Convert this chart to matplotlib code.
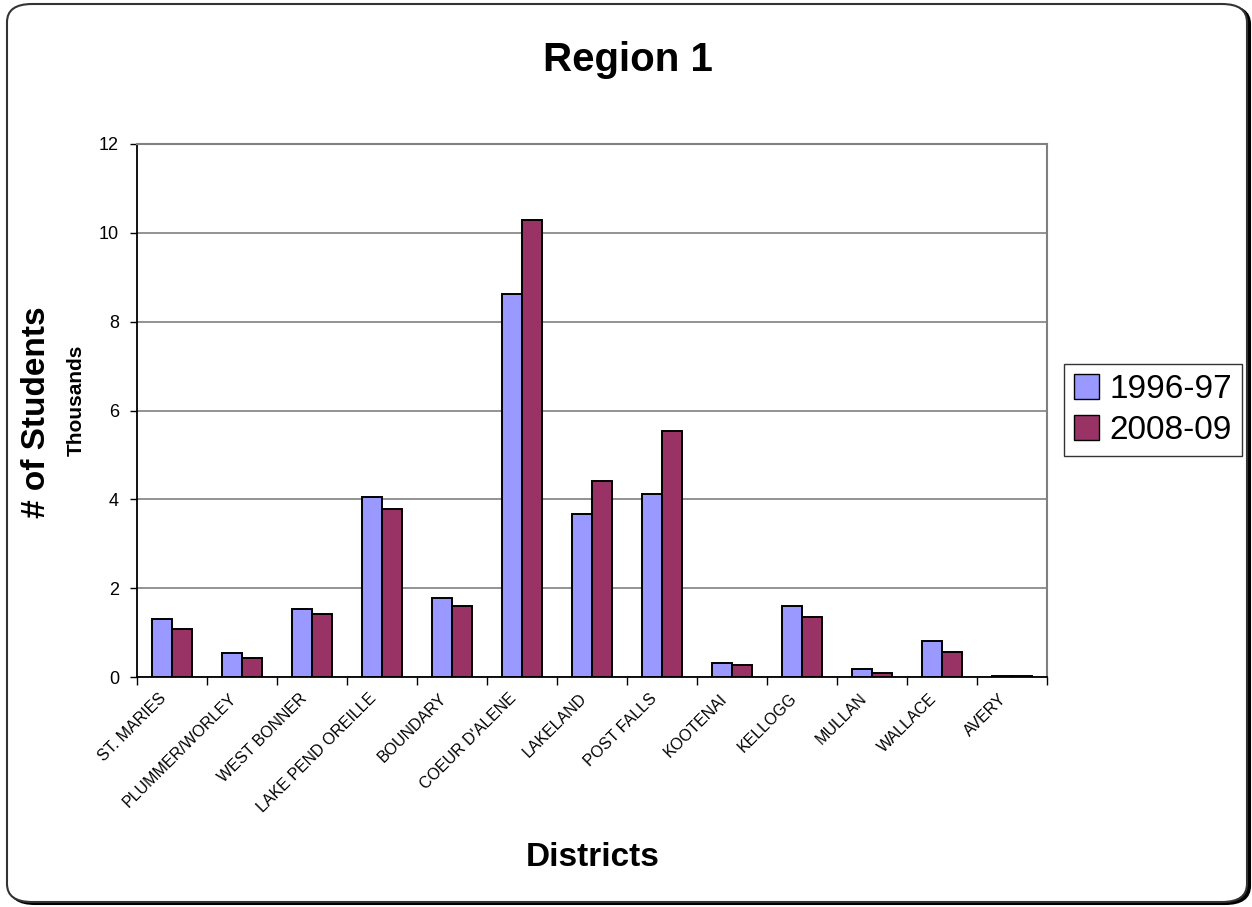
import numpy as np
import matplotlib
matplotlib.use("Agg")
import matplotlib.pyplot as plt
from matplotlib.patches import FancyBboxPatch, Patch
from matplotlib.transforms import ScaledTranslation

plt.rcParams['font.family'] = ['Liberation Sans', 'DejaVu Sans']

districts = ['ST. MARIES', 'PLUMMER/WORLEY', 'WEST BONNER', 'LAKE PEND OREILLE',
             'BOUNDARY', "COEUR D'ALENE", 'LAKELAND', 'POST FALLS', 'KOOTENAI',
             'KELLOGG', 'MULLAN', 'WALLACE', 'AVERY']
# enrollment in thousands
y1996 = [1.31, 0.55, 1.53, 4.05, 1.78, 8.63, 3.68, 4.11, 0.32, 1.60, 0.18, 0.80, 0.03]
y2008 = [1.08, 0.43, 1.42, 3.78, 1.60, 10.28, 4.41, 5.54, 0.28, 1.34, 0.10, 0.57, 0.02]

blue = '#9999FF'
plum = '#993366'

fig = plt.figure(figsize=(12.52, 9.07), dpi=100)

# rounded frame with a dark drop shadow, kept behind the axes
shadow = FancyBboxPatch((10 / 1252, 3 / 907), 1240 / 1252, 898 / 907,
                        boxstyle='round,pad=0,rounding_size=0.02',
                        transform=fig.transFigure, facecolor='black',
                        edgecolor='black', linewidth=1.5, zorder=-2)
frame = FancyBboxPatch((7 / 1252, 5 / 907), 1240 / 1252, 898 / 907,
                       boxstyle='round,pad=0,rounding_size=0.02',
                       transform=fig.transFigure, facecolor='white',
                       edgecolor='#333333', linewidth=1.5, zorder=-1)
fig.patches.extend([shadow, frame])

ax = fig.add_axes([137 / 1252, 1 - 677 / 907, 910 / 1252, 533 / 907])
ax.set_facecolor('none')

x = np.arange(len(districts))
w = 0.29
ax.bar(x - w / 2, y1996, w, color=blue, edgecolor='black', linewidth=1.4, zorder=3)
ax.bar(x + w / 2, y2008, w, color=plum, edgecolor='black', linewidth=1.4, zorder=3)

ax.set_xlim(-0.5, len(districts) - 0.5)
ax.set_ylim(0, 12)
ax.set_yticks(range(0, 13, 2))
ax.yaxis.grid(True, color='#808080', linewidth=1.2, zorder=0)
ax.set_axisbelow(True)
ax.tick_params(axis='y', labelsize=13, length=5, direction='out', width=1, pad=8)

ax.set_xticks(np.arange(-0.5, len(districts), 1))
ax.set_xticklabels([])
ax.set_xticks(x, minor=True)
ax.set_xticklabels(districts, minor=True, rotation=45, ha='right',
                   rotation_mode='anchor', fontsize=11.5)
ax.tick_params(axis='x', which='major', length=6, width=1)
ax.tick_params(axis='x', which='minor', length=0, pad=10)
nudge = ScaledTranslation(-13 / 100, 0, fig.dpi_scale_trans)
for lbl in ax.get_xticklabels(minor=True):
    lbl.set_transform(lbl.get_transform() + nudge)

for s in ['left', 'bottom']:
    ax.spines[s].set_color('black')
    ax.spines[s].set_linewidth(1.3)
for s in ['top', 'right']:
    ax.spines[s].set_color('#808080')
    ax.spines[s].set_linewidth(1.5)

fig.text(628 / 1252, 1 - 60 / 907, 'Region 1', ha='center', va='center',
         fontsize=29, fontweight='bold')
fig.text(593 / 1252, 1 - 858 / 907, 'Districts', ha='center', va='center',
         fontsize=24, fontweight='bold')
fig.text(37 / 1252, 1 - 412 / 907, '# of Students', ha='center', va='center',
         rotation=90, fontsize=24, fontweight='bold')
fig.text(76 / 1252, 1 - 400 / 907, 'Thousands', ha='center', va='center',
         rotation=90, fontsize=15, fontweight='bold')

handles = [Patch(facecolor=blue, edgecolor='black', label='1996-97'),
           Patch(facecolor=plum, edgecolor='black', label='2008-09')]
fig.legend(handles=handles, loc='center', bbox_to_anchor=(1153 / 1252, 1 - 410 / 907),
           fontsize=24, frameon=True, fancybox=False, edgecolor='black',
           handlelength=0.75, handleheight=0.75, handletextpad=0.3,
           borderpad=0.3, labelspacing=0.3, borderaxespad=0)

fig.savefig('out.png', dpi=100, facecolor='white')
